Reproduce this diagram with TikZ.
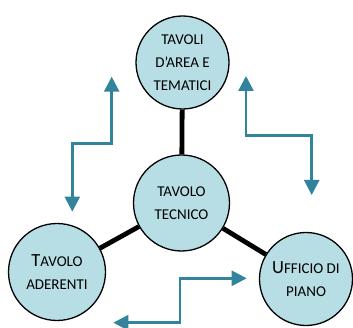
\documentclass[tikz,border=0pt]{standalone}
\usepackage{fontspec}
\setmainfont{Carlito}
\usetikzlibrary{arrows.meta}
\definecolor{fillc}{HTML}{B7DEE4}
\definecolor{arrc}{HTML}{31849B}
\newcommand{\initcap}[1]{{\fontsize{18.5}{23}\selectfont #1}}
\begin{document}
\begin{tikzpicture}[x=1pt,y=-1pt,
  circ/.style={circle,draw=black,line width=1.3pt,fill=fillc,inner sep=0pt,
    align=center,font=\fontsize{15}{23}\selectfont},
  link/.style={line width=4.8pt,black},
  twoway/.style={arrc,line width=2.5pt,
    {Triangle[length=15pt,width=15pt]}-{Triangle[length=15pt,width=15pt]}}]
\useasboundingbox (0,0) rectangle (353,328);
\node[circ,minimum size=93pt] (top) at (182.5,62.5) {TAVOLI\\D’AREA E\\TEMATICI};
\node[circ,minimum size=96pt] (mid) at (181.5,203) {TAVOLO\\TECNICO};
\node[circ,minimum size=97pt] (left) at (57,272) {\initcap{T}AVOLO\\ADERENTI};
\node[circ,minimum size=93pt] (right) at (306,279) {\initcap{U}FFICIO DI\\PIANO};
\draw[link] (mid) -- (top);
\draw[link] (mid) -- (left);
\draw[link] (mid) -- (right);
\coordinate (a1s) at (111.7,76.7);
\coordinate (a1m) at (72.3,143.3);
\coordinate (a1e) at (72.3,211.7);
\draw[twoway] (a1s) |- (a1m) -- (a1e);
\coordinate (a2s) at (246,76);
\coordinate (a2m) at (311.7,135.7);
\coordinate (a2e) at (311.7,195);
\draw[twoway] (a2s) |- (a2m) -- (a2e);
\coordinate (a3s) at (246.7,278.3);
\coordinate (a3m) at (180,322.7);
\coordinate (a3e) at (113.3,322.7);
\draw[twoway] (a3s) -| (a3m) -- (a3e);
\end{tikzpicture}
\end{document}
